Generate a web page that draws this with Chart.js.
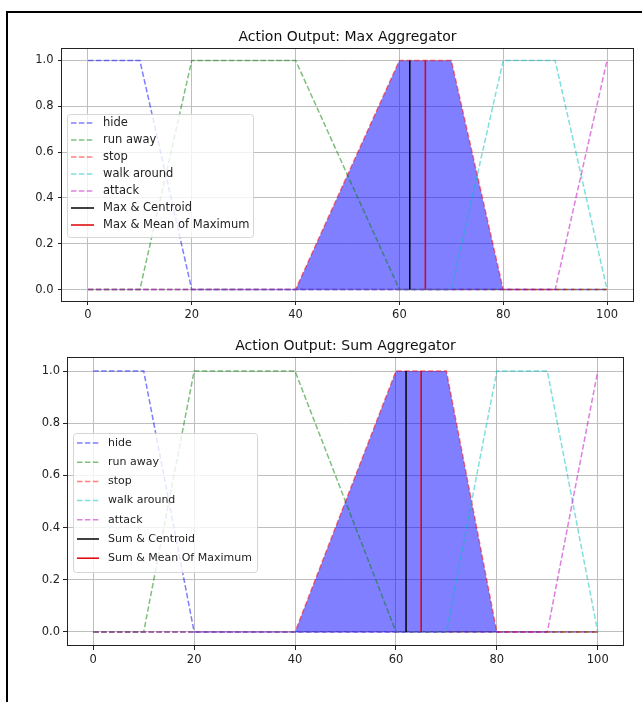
<!DOCTYPE html>
<html>
<head>
<meta charset="utf-8">
<script src="https://cdn.jsdelivr.net/npm/chart.js@4.4.1/dist/chart.umd.min.js"></script>
<style>
html, body { margin: 0; padding: 0; background: #fff; overflow: hidden; }
body { width: 642px; height: 702px; position: relative; }
#frame { position: absolute; left: 6px; top: 11px; width: 700px; height: 720px;
  border-left: 2px solid #000; border-top: 2px solid #000; }
canvas { position: absolute; left: 0; }
#top { top: 0; }
#bot { top: 330px; }
</style>
</head>
<body>
<div id="frame"></div>
<canvas id="top" width="642" height="330"></canvas>
<canvas id="bot" width="642" height="360"></canvas>
<script>
"use strict";

// axis ticks
var X_TICKS = [0, 20, 40, 60, 80, 100];
var Y_TICKS = [0, 0.2, 0.4, 0.6, 0.8, 1.0];

// membership functions (break points)
var HIDE_X = [0, 10, 20, 100],          HIDE_Y = [1, 1, 0, 0];
var RUN_X = [0, 10, 20, 40, 60, 100],   RUN_Y = [0, 0, 1, 1, 0, 0];
var STOP_X = [0, 40, 60, 70, 80, 100],  STOP_Y = [0, 0, 1, 1, 0, 0];
var WALK_X = [0, 70, 80, 90, 100],      WALK_Y = [0, 0, 1, 1, 0];
var ATTACK_X = [0, 90, 100],            ATTACK_Y = [0, 0, 1];

// aggregated output (filled area)
var MAX_AGG_X = [0, 40, 60, 70, 80, 100], MAX_AGG_Y = [0, 0, 1, 1, 0, 0];
var SUM_AGG_X = [0, 40, 60, 70, 80, 100], SUM_AGG_Y = [0, 0, 1, 1, 0, 0];

// defuzzified values
var MAX_CENTROID = 62, MAX_MOM = 65;
var SUM_CENTROID = 62, SUM_MOM = 65;

Chart.defaults.font.family = "'DejaVu Sans', sans-serif";
Chart.defaults.font.size = 11.5;
Chart.defaults.color = "#222";

var DASH = [5.5, 2.4];

function pts(xs, ys) {
  return xs.map(function(x, i) { return { x: x, y: ys[i] }; });
}
function vline(x) { return [{ x: x, y: 0 }, { x: x, y: 1 }]; }

function dashed(label, xs, ys, color, order) {
  return { label: label, data: pts(xs, ys), borderColor: color, borderDash: DASH,
           borderWidth: 1.5, pointRadius: 0, fill: false, order: order };
}

// legend drawn inside the plot, matplotlib style
var boxLegend = {
  id: "boxLegend",
  afterDatasetsDraw: function(chart, args, o) {
    var ctx = chart.ctx, a = chart.chartArea;
    var items = chart.data.datasets.filter(function(d) { return d.label; });
    var x0 = a.left + o.x, y0 = a.top + o.y;
    ctx.save();
    ctx.beginPath();
    ctx.roundRect(x0 + 0.5, y0 + 0.5, o.w, o.h, 3);
    ctx.fillStyle = "rgba(255,255,255,0.8)";
    ctx.fill();
    ctx.strokeStyle = "#d6d6d6";
    ctx.lineWidth = 1;
    ctx.stroke();
    items.forEach(function(d, i) {
      var cy = y0 + o.first + i * o.row;
      ctx.setLineDash(d.borderDash || []);
      ctx.strokeStyle = d.borderColor;
      ctx.lineWidth = d.borderWidth;
      ctx.beginPath();
      ctx.moveTo(x0 + o.sx, cy);
      ctx.lineTo(x0 + o.sx + o.sl, cy);
      ctx.stroke();
      ctx.setLineDash([]);
      ctx.fillStyle = "#222";
      ctx.font = o.font + "px 'DejaVu Sans'";
      ctx.textBaseline = "middle";
      ctx.fillText(d.label, x0 + o.tx, cy);
    });
    ctx.restore();
  }
};

// four black spines
var spines = {
  id: "spines",
  afterDraw: function(chart) {
    var ctx = chart.ctx, a = chart.chartArea;
    ctx.save();
    ctx.strokeStyle = "#222";
    ctx.lineWidth = 1;
    ctx.strokeRect(a.left - 0.5, a.top - 0.5, a.right - a.left + 1, a.bottom - a.top + 1);
    ctx.restore();
  }
};

function makeChart(id, title, aggX, aggY, cLabel, cX, mLabel, mX, g) {
  var datasets = [
    dashed("hide", HIDE_X, HIDE_Y, "rgba(0,0,255,0.5)", 6),
    dashed("run away", RUN_X, RUN_Y, "rgba(0,128,0,0.5)", 5),
    dashed("stop", STOP_X, STOP_Y, "rgba(255,0,0,0.5)", 4),
    dashed("walk around", WALK_X, WALK_Y, "rgba(0,191,191,0.5)", 3),
    dashed("attack", ATTACK_X, ATTACK_Y, "rgba(191,0,191,0.5)", 2),
    { label: cLabel, data: vline(cX), borderColor: "#000", borderWidth: 1.5, pointRadius: 0, order: 1 },
    { label: mLabel, data: vline(mX), borderColor: "#e00000", borderWidth: 1.5, pointRadius: 0, order: 0 },
    { data: pts(aggX, aggY), borderWidth: 0, pointRadius: 0, fill: "origin",
      backgroundColor: "rgba(0,0,255,0.5)", order: 7 }
  ];
  return new Chart(document.getElementById(id).getContext("2d"), {
    type: "line",
    data: { datasets: datasets },
    plugins: [boxLegend, spines],
    options: {
      responsive: false,
      animation: false,
      devicePixelRatio: 1,
      events: [],
      layout: { padding: { top: g.padTop, left: 0, right: g.padRight, bottom: 0 } },
      plugins: {
        legend: { display: false },
        tooltip: { enabled: false },
        title: { display: true, text: title, fullSize: false, color: "#111",
                 font: { size: 14, weight: "normal", lineHeight: 1 },
                 padding: { top: 0, bottom: 5 } },
        boxLegend: g.legend
      },
      scales: {
        x: {
          type: "linear", min: -5, max: 105,
          afterBuildTicks: function(s) { s.ticks = X_TICKS.map(function(v) { return { value: v }; }); },
          afterFit: function(s) { s.height = g.xHeight; },
          ticks: { padding: g.xPad, maxRotation: 0, callback: function(v) { return String(v); } },
          grid: { color: "#bebebe", tickColor: "#222", tickLength: g.tick, lineWidth: 1 },
          border: { display: false }
        },
        y: {
          type: "linear", min: -0.05, max: 1.05,
          afterBuildTicks: function(s) { s.ticks = Y_TICKS.map(function(v) { return { value: v }; }); },
          afterFit: function(s) { s.width = g.yWidth; },
          ticks: { padding: g.yPad, callback: function(v) { return Number(v).toFixed(1); } },
          grid: { color: "#bebebe", tickColor: "#222", tickLength: g.tick, lineWidth: 1 },
          border: { display: false }
        }
      }
    }
  });
}

makeChart("top", "Action Output: Max Aggregator", MAX_AGG_X, MAX_AGG_Y,
  "Max & Centroid", MAX_CENTROID, "Max & Mean of Maximum", MAX_MOM,
  { padTop: 30, padRight: 9, yWidth: 62, xHeight: 29, tick: 4, xPad: 3, yPad: 4.5,
    legend: { x: 5, y: 65, w: 186, h: 123, first: 9, row: 17, sx: 4, sl: 23, tx: 36, font: 11.5 } });

makeChart("bot", "Action Output: Sum Aggregator", SUM_AGG_X, SUM_AGG_Y,
  "Sum & Centroid", SUM_CENTROID, "Sum & Mean Of Maximum", SUM_MOM,
  { padTop: 9, padRight: 19, yWidth: 68, xHeight: 45, tick: 5, xPad: 3.5, yPad: 3,
    legend: { x: 5, y: 75, w: 184, h: 139, first: 10, row: 19.2, sx: 4, sl: 22, tx: 35, font: 11 } });
</script>
</body>
</html>
